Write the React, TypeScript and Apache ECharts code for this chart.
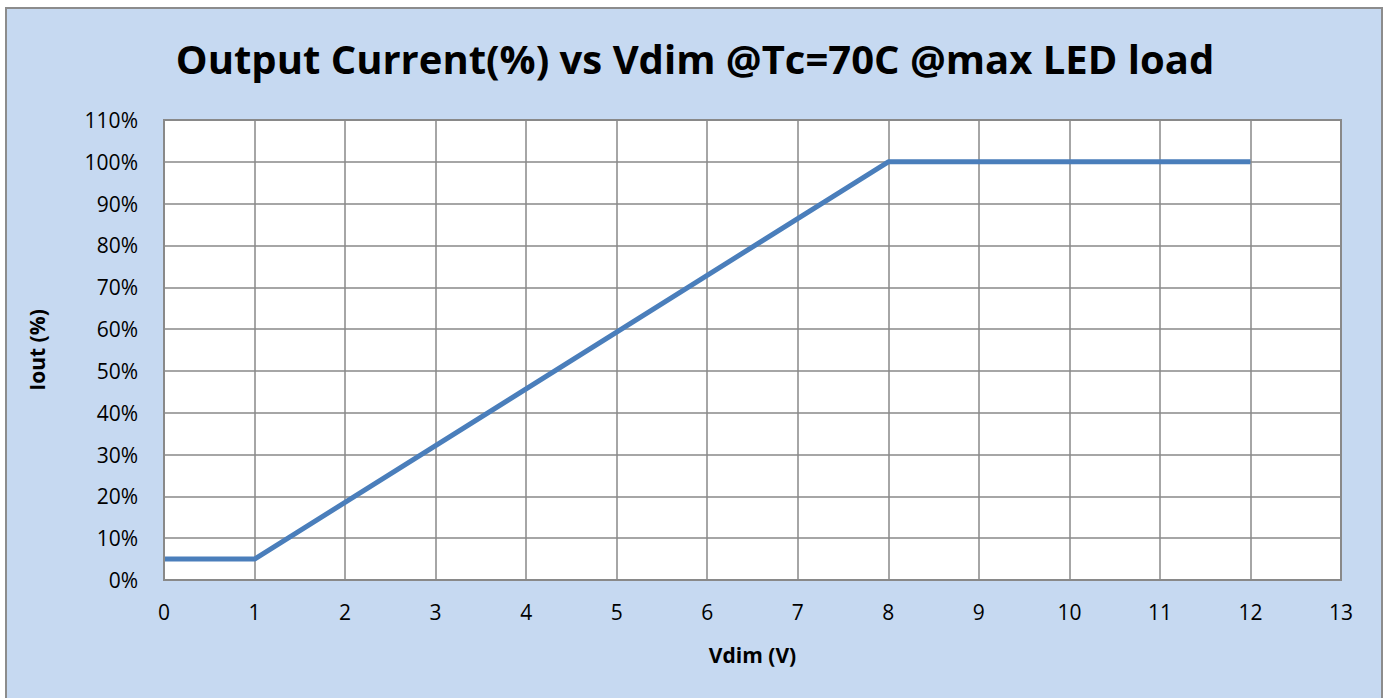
import React, { useEffect, useRef } from "react";
import * as echarts from "echarts";

const vdim = [0, 1, 8, 12];
const iout = [0.05, 0.05, 1.0, 1.0];
const titleText = "Output Current(%) vs Vdim @Tc=70C @max LED load";
const xName = "Vdim (V)";
const yName = "Iout (%)";

export default function App() {
  const ref = useRef<HTMLDivElement>(null);
  useEffect(() => {
    const chart = echarts.init(ref.current!, null, { renderer: "svg" });
    const font = "'Open Sans', 'Noto Sans', sans-serif";
    chart.setOption({
      animation: false,
      backgroundColor: "transparent",
      title: {
        text: titleText,
        left: "center",
        top: 33,
        textStyle: { fontFamily: font, fontWeight: "bold", fontSize: 40, color: "#000" },
      },
      grid: { left: 164, right: 49, top: 120, bottom: 118 },
      xAxis: {
        type: "value",
        min: 0,
        max: 13,
        interval: 1,
        name: xName,
        nameLocation: "middle",
        nameGap: 64,
        nameTextStyle: { fontFamily: font, fontWeight: "bold", fontSize: 21, color: "#000" },
        axisLine: { show: true, lineStyle: { color: "#898989", width: 2 } },
        axisTick: { show: false },
        axisLabel: { fontFamily: font, fontSize: 21, color: "#000", margin: 21 },
        splitLine: { show: true, lineStyle: { color: "#898989", width: 1.5 } },
      },
      yAxis: {
        type: "value",
        min: 0,
        max: 1.1,
        interval: 0.1,
        name: yName,
        nameLocation: "middle",
        nameGap: 117,
        nameTextStyle: { fontFamily: font, fontWeight: "bold", fontSize: 21, color: "#000" },
        axisLine: { show: true, lineStyle: { color: "#898989", width: 2 } },
        axisTick: { show: false },
        axisLabel: {
          fontFamily: font,
          fontSize: 21,
          color: "#000",
          margin: 26,
          formatter: (v: number) => Math.round(v * 100) + "%",
        },
        splitLine: { show: true, lineStyle: { color: "#898989", width: 1.5 } },
      },
      graphic: [
        {
          type: "rect",
          z: -10,
          silent: true,
          shape: { x: 164, y: 120, width: 1177, height: 460 },
          style: { fill: "#ffffff" },
        },
        {
          type: "rect",
          z: 100,
          silent: true,
          shape: { x: 164, y: 120, width: 1177, height: 460 },
          style: { fill: "none", stroke: "#898989", lineWidth: 2 },
        },
      ],
      series: [
        {
          type: "line",
          data: vdim.map((x, i) => [x, iout[i]]),
          showSymbol: false,
          lineStyle: { color: "#4a7ebb", width: 5 },
          itemStyle: { color: "#4a7ebb" },
        },
      ],
    });
    return () => chart.dispose();
  }, []);
  return (
    <div
      style={{
        position: "absolute",
        left: 0,
        top: 0,
        width: 1390,
        height: 698,
        overflow: "hidden",
      }}
    >
      <div
        style={{
          position: "absolute",
          left: 5,
          top: 7,
          width: 1378,
          height: 700,
          background: "#c6d9f1",
          border: "2px solid #8c8c8c",
          boxSizing: "border-box",
        }}
      />
      <div ref={ref} style={{ position: "absolute", left: 0, top: 0, width: 1390, height: 698 }} />
    </div>
  );
}
